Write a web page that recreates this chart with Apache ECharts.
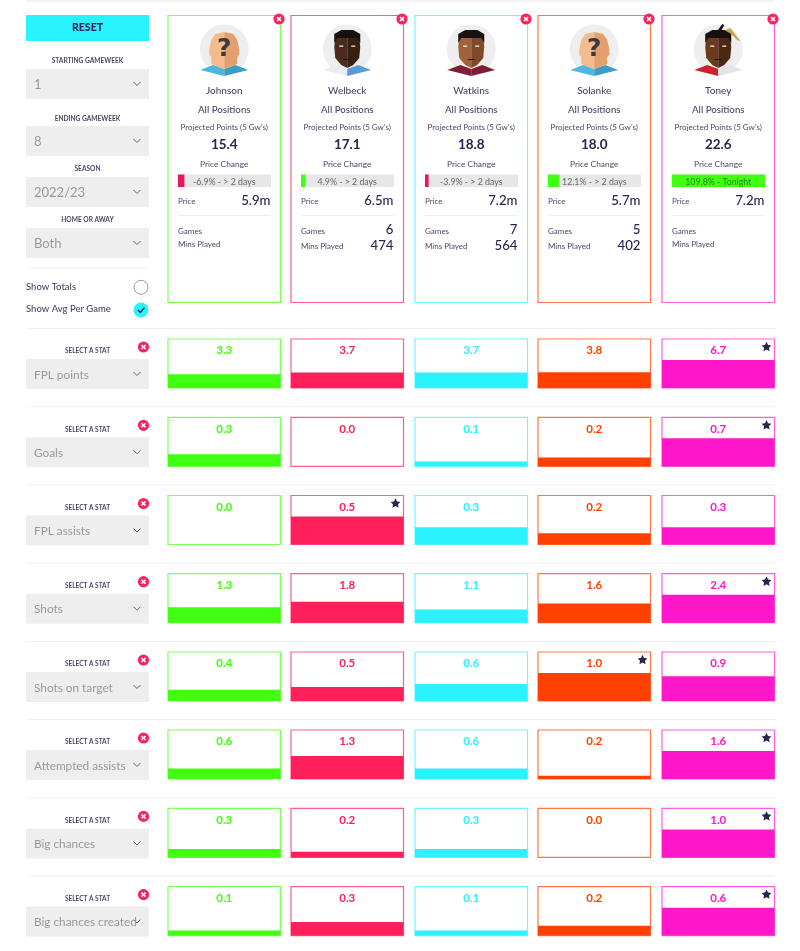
<!DOCTYPE html>
<html>
<head>
<meta charset="utf-8">
<title>Player comparison</title>
<style>
  html,body{margin:0;padding:0;background:#fff;}
  #main{width:800px;height:951px;}
</style>
<script src="https://cdn.jsdelivr.net/npm/echarts@6/dist/echarts.min.js"></script>
</head>
<body>
<div id="main"></div>
<script>
const players = ['Johnson','Welbeck','Watkins','Solanke','Toney'];
const projected = [15.4,17.1,18.8,18.0,22.6];
const priceChange = [-6.9,4.9,-3.9,12.1,109.8];
const priceWhen = ['> 2 days','> 2 days','> 2 days','> 2 days','Tonight'];
const prices = ['5.9m','6.5m','7.2m','5.7m','7.2m'];
const games = [null,6,7,5,null];
const mins = [null,474,564,402,null];

const statNames = ['FPL points','Goals','FPL assists','Shots','Shots on target','Attempted assists','Big chances','Big chances created'];
const fplPoints = [3.3,3.7,3.7,3.8,6.7];
const goals = [0.3,0,0.12,0.22,0.7];
const fplAssists = [0,0.5,0.31,0.2,0.31];
const shots = [1.33,1.79,1.14,1.64,2.4];
const shotsOnTarget = [0.4,0.5,0.61,1.0,0.89];
const attemptedAssists = [0.6,1.32,0.6,0.19,1.6];
const bigChances = [0.3,0.2,0.3,0,1.0];
const bigChancesCreated = [0.11,0.29,0.11,0.21,0.6];
const statRows = [fplPoints,goals,fplAssists,shots,shotsOnTarget,attemptedAssists,bigChances,bigChancesCreated];

const filterLabels = ['STARTING GAMEWEEK','ENDING GAMEWEEK','SEASON','HOME OR AWAY'];
const filterValues = ['1','8','2022/23','Both'];

const colors = ['#40ff10','#ff1f5a','#29f3ff','#ff4000','#ff17c9'];
const borders = ['#7dff5c','#ff5f88','#70f7ff','#ff7648','#ff5ede'];
const dark = '#2d2350';
const muted = '#4d4668';
const font = 'Lato';

const colLeft = [168,291,415,538,662];
const colWidth = 112.5;
const rowTop = [339,417.3,495.5,573.7,652,730,808.4,886.6];
const cellHeight = 49;
const maxBarShare = 0.57;

const el = [];
function text(x,y,str,size,color,extra){
  el.push({type:'text',z:100,x:x,y:y,style:Object.assign({text:str,fontFamily:font,fontSize:size,fill:color,align:'center',verticalAlign:'middle'},extra||{})});
}
function rect(x,y,w,h,fill,z){
  el.push({type:'rect',z:z||1,shape:{x:x,y:y,width:w,height:h},style:{fill:fill}});
}
function hline(x1,x2,y,color){
  el.push({type:'line',z:1,shape:{x1:x1,y1:y,x2:x2,y2:y},style:{stroke:color,lineWidth:1}});
}
function poly(points,fill,z){
  el.push({type:'polygon',z:z||10,shape:{points:points},style:{fill:fill}});
}
function chevron(x,y){
  el.push({type:'polyline',z:5,shape:{points:[[x-3.5,y-2],[x,y+1.5],[x+3.5,y-2]]},style:{stroke:'#666',lineWidth:1,fill:null}});
}
function closeBadge(x,y){
  el.push({type:'circle',z:60,shape:{cx:x,cy:y,r:5.6},style:{fill:'#f5265f'}});
  el.push({type:'line',z:61,shape:{x1:x-2,y1:y-2,x2:x+2,y2:y+2},style:{stroke:'#fff',lineWidth:1.6}});
  el.push({type:'line',z:61,shape:{x1:x-2,y1:y+2,x2:x+2,y2:y-2},style:{stroke:'#fff',lineWidth:1.6}});
}
function star(x,y,r){
  const pts = [];
  for(let i=0;i<10;i++){
    const a = -Math.PI/2 + i*Math.PI/5, rr = i%2 ? r*0.5 : r;
    pts.push([x+rr*Math.cos(a),y+rr*Math.sin(a)]);
  }
  poly(pts,dark,70);
}
function select(y,label,labelSize){
  rect(26,y,123,30,'#eeeeee');
  text(34,y+15.7,label,labelSize,'#999',{align:'left'});
  chevron(137,y+15);
}

// avatars, two tone like the site's flat icons
const avatars = [
  {skin:['#f4bb8d','#e3a06c'],shirt:['#4db8dd','#3b9fc4']},
  {skin:['#4a2c1c','#38200f'],shirt:['#e8edf3','#5b9bd5'],hair:'#17110d'},
  {skin:['#a0623a','#7f4a2a'],shirt:['#7d1f33','#7d1f33'],hair:'#1a1210'},
  {skin:['#f4bb8d','#e3a06c'],shirt:['#4db8dd','#3b9fc4']},
  {skin:['#6b3a1f','#4a2814'],shirt:['#d0202e','#e4e4e4'],hair:'#17110d',gold:true}
];
function avatar(cx,a){
  const cy = 49, anon = !a.hair;
  el.push({type:'circle',z:5,shape:{cx:cx,cy:cy,r:24.5},style:{fill:'#eeeeee'}});
  const p = (list)=>list.map(q=>[cx+q[0],cy+q[1]]);
  poly(p([[-24,21],[-11,16],[0,20],[0,27],[-8,25]]),a.shirt[0],10);
  poly(p([[24,21],[11,16],[0,20],[0,27],[8,25]]),a.shirt[1],10);
  if(anon){
    poly(p([[0,-17],[-9,-15],[-13,-9],[-15,0],[-15,6],[-13,8],[-13,15],[0,20]]),a.skin[0],12);
    poly(p([[0,-17],[9,-15],[13,-9],[15,0],[15,6],[13,8],[13,15],[0,20]]),a.skin[1],12);
    text(cx,cy,'?',25,'#3a3a40',{fontWeight:900,fontFamily:'DejaVu Sans'});
  } else {
    poly(p([[0,-12],[-12,-12],[-13,-2],[-12,9],[-6,16],[0,19]]),a.skin[0],12);
    poly(p([[0,-12],[12,-12],[13,-2],[12,9],[6,16],[0,19]]),a.skin[1],12);
    poly(p([[-13,-6],[-13,-15],[-6,-19],[6,-19],[13,-15],[13,-6],[10,-11],[-10,-11]]),a.hair,13);
    if(a.gold){
      poly(p([[5,-18],[12,-21],[22,-8],[19,-9],[13,-15],[9,-12]]),'#c9a24a',11);
      poly(p([[-1,-18],[4,-25],[6,-24],[2,-17]]),a.hair,13);
    }
    rect(cx-8,cy-3.5,4,1.3,'#eee',14);
    rect(cx+4,cy-3.5,4,1.3,'#eee',14);
    rect(cx-3.5,cy+10,7,0.9,'#1d120b',14);
  }
}

// top strip and sidebar
rect(26,0,749,2,'#f4f4f4');
rect(26,15,123,26,'#29f3ff');
text(87.5,28,'RESET',10.5,dark,{fontWeight:900});
const filterLabelY = [60,118,168.5,219.5];
const filterBoxY = [69,126,177,228];
filterLabels.forEach((l,i)=>{
  text(87.5,filterLabelY[i]+0.4,l,6.6,muted,{fontWeight:700});
  select(filterBoxY[i],filterValues[i],13);
});
hline(26,149,268,'#efefef');
text(26,286.5,'Show Totals',9.5,muted,{align:'left',fontWeight:500});
text(26,309,'Show Avg Per Game',9.5,muted,{align:'left',fontWeight:500});
el.push({type:'circle',z:5,shape:{cx:141,cy:287.3,r:7},style:{fill:'#fff',stroke:'#999',lineWidth:1}});
el.push({type:'circle',z:5,shape:{cx:141,cy:310,r:7.5},style:{fill:'#29f3ff'}});
el.push({type:'polyline',z:6,shape:{points:[[137.8,310],[140.3,312.3],[144.5,307.8]]},style:{stroke:dark,lineWidth:1.5,fill:null}});

// player cards
players.forEach((name,i)=>{
  const x = colLeft[i], cx = x+colWidth/2, right = x+102.5;
  el.push({type:'rect',z:2,shape:{x:x,y:15.5,width:colWidth,height:287},style:{fill:null,stroke:borders[i],lineWidth:1.2}});
  closeBadge(x+111,19);
  avatar(cx,avatars[i]);
  text(cx,91,name,10,muted,{fontWeight:500});
  text(cx,110,'All Positions',9.7,muted,{fontWeight:500});
  text(cx,127,"Projected Points (5 Gw's)",8,muted);
  text(cx,145,projected[i].toFixed(1),13.5,dark,{fontWeight:700});
  text(cx,164,'Price Change',8.4,muted);
  text(cx,182,priceChange[i]+'% - '+priceWhen[i],8.8,i==4?'#238a10':'#666');
  text(x+10,201,'Price',8,muted,{align:'left'});
  text(right,201,prices[i],13.2,dark,{align:'right',fontWeight:500});
  hline(x+10,right,215.5,'#eeeeee');
  text(x+10,231,'Games',8,muted,{align:'left'});
  const hasData = games[i]!==null;
  text(x+10,hasData?246:244,'Mins Played',8,muted,{align:'left'});
  if(hasData){
    text(right,230,String(games[i]),13.2,dark,{align:'right',fontWeight:500});
    text(right,246,String(mins[i]),13.2,dark,{align:'right',fontWeight:500});
  }
});

// stat rows
const grids = [], xAxes = [], yAxes = [], series = [];
function addGrid(box,xAxis,yAxis,value,color){
  const idx = grids.length;
  grids.push(Object.assign({containLabel:false},box));
  xAxes.push(Object.assign({gridIndex:idx,show:false},xAxis));
  yAxes.push(Object.assign({gridIndex:idx,show:false},yAxis));
  series.push({type:'bar',xAxisIndex:idx,yAxisIndex:idx,barWidth:'100%',silent:true,animation:false,
    data:[value],itemStyle:{color:color}});
}
statRows.forEach((row,r)=>{
  const top = rowTop[r], best = Math.max.apply(null,row);
  hline(26,775,top-10.5,'#efefef');
  text(87.5,top+12.2,'SELECT A STAT',6.5,muted,{fontWeight:700});
  closeBadge(143.5,top+8);
  select(top+20,statNames[r],11.8);
  row.forEach((v,c)=>{
    addGrid({left:colLeft[c],top:top,width:colWidth,height:cellHeight,show:true,borderColor:borders[c],borderWidth:1.2,backgroundColor:'#fff'},
      {type:'category',data:[players[c]]},
      {type:'value',min:0,max:best/maxBarShare},
      v,colors[c]);
    text(colLeft[c]+colWidth/2,top+11.7,v.toFixed(1),11.5,colors[c],{fontWeight:700});
    if(v===best) star(colLeft[c]+104.5,top+8,5.2);
  });
});

// price change bars on the cards
priceChange.forEach((v,i)=>{
  addGrid({left:colLeft[i]+10,top:174.5,width:93,height:12.5,show:true,borderWidth:0,backgroundColor:'#e6e8e6'},
    {type:'value',min:0,max:100},
    {type:'category',data:[players[i]]},
    Math.abs(v),v<0?'#e8175d':'#40ff10');
});

const chart = echarts.init(document.getElementById('main'));
chart.setOption({
  animation:false,
  tooltip:{show:false},
  grid:grids,
  xAxis:xAxes,
  yAxis:yAxes,
  series:series,
  graphic:{elements:el}
});
</script>
</body>
</html>
